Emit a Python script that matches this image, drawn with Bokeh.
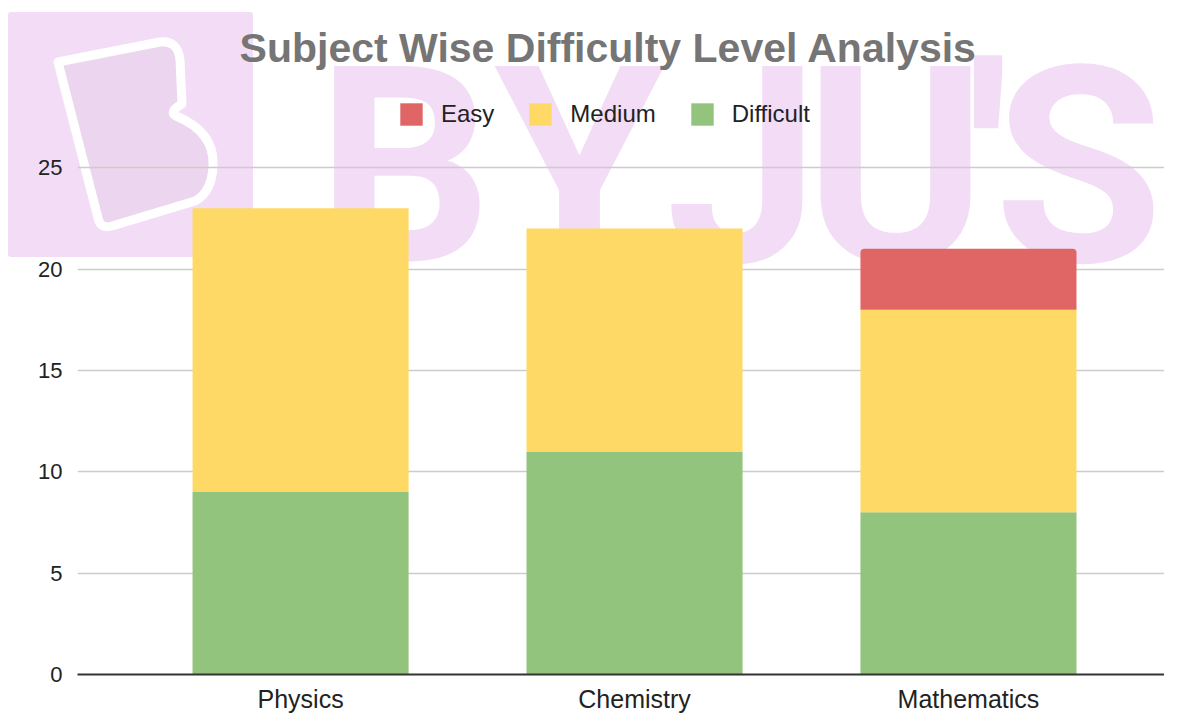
from bokeh.plotting import figure
from bokeh.models import (ColumnDataSource, FixedTicker, Legend, LegendItem, Label, Range1d)
from bokeh.transform import stack
from bokeh.embed import file_html
from bokeh.resources import INLINE

# ---- data ----
subjects = ["Physics", "Chemistry", "Mathematics"]
difficult = [9, 11, 8]
medium = [14, 11, 10]
easy = [0, 0, 3]
legend_order = ["Easy", "Medium", "Difficult"]
y_ticks = [0, 5, 10, 15, 20, 25]
title_text = "Subject Wise Difficulty Level Analysis"
watermark_letters = ["B", "Y", "J", "U", "'", "S"]

colors = {"Easy": "#e06666", "Medium": "#ffd966", "Difficult": "#93c47d"}
positions = list(range(1, len(subjects) + 1))
source = ColumnDataSource(dict(x=positions, Difficult=difficult, Medium=medium, Easy=easy))

W, H = 1164, 715
FRAME_LEFT, FRAME_BOTTOM = 77, 680
WM = "%23f3dcf6"
logo_svg = (
    f"<svg xmlns='http://www.w3.org/2000/svg' width='{W}' height='{H}'>"
    f"<rect x='8' y='12' width='245' height='245' rx='3' fill='{WM}'/>"
    "<path d='M58,62 L160,42 Q178,40 180,60 L182,104 Q168,112 176,116 Q215,132 213,166 "
    "Q212,192 195,201 L112,226 Q100,229 98,218 Z' fill='%23ecd5ee' stroke='white' "
    "stroke-width='9' stroke-linejoin='round'/>"
    "</svg>"
)
p = figure(width=W, height=H, output_backend="svg", toolbar_location=None,
           x_range=Range1d(0.332, 3.587), y_range=Range1d(0, 33.25),
           min_border_left=FRAME_LEFT, min_border_right=0, min_border_top=0,
           min_border_bottom=H - FRAME_BOTTOM,
           styles={"background": f'url("data:image/svg+xml;utf8,{logo_svg}") 0 0 / {W}px {H}px no-repeat, #ffffff'})
p.outline_line_color = None
p.background_fill_alpha = 0
p.border_fill_alpha = 0

# ---- watermark (decoration) ----
wm_x = [327, 502, 665, 818, 910, 1001]
for letter, xx in zip(watermark_letters, wm_x):
    p.add_layout(Label(x=xx, y=FRAME_BOTTOM - 12, x_units="screen", y_units="screen", text=letter,
                       text_font="Roboto", text_font_style="bold", text_font_size="275px",
                       text_color="#f3dcf6", text_align="center", text_baseline="top",
                       level="image"))

# ---- bars ----
bw = 0.647
r_d = p.vbar(x="x", bottom=0, top=stack("Difficult"), width=bw, source=source,
             fill_color=colors["Difficult"], line_color=None)
r_m = p.vbar(x="x", bottom=stack("Difficult"), top=stack("Difficult", "Medium"), width=bw,
             source=source, fill_color=colors["Medium"], line_color=None)
r_e = p.vbar(x="x", bottom=stack("Difficult", "Medium"), top=stack("Difficult", "Medium", "Easy"),
             width=bw, source=source, fill_color=colors["Easy"], line_color=None,
             border_radius=(4, 4, 0, 0))
rmap = {"Easy": r_e, "Medium": r_m, "Difficult": r_d}

# ---- axes ----
p.xaxis.ticker = FixedTicker(ticks=positions)
p.xaxis.major_label_overrides = {pos: name for pos, name in zip(positions, subjects)}
p.xaxis.axis_line_color = "#333333"
p.xaxis.axis_line_width = 2
p.xaxis.major_tick_line_color = None
p.xaxis.minor_tick_line_color = None
p.xaxis.major_tick_out = 0
p.xaxis.major_tick_in = 0
p.xaxis.major_label_text_font = "Liberation Sans"
p.xaxis.major_label_text_font_size = "25px"
p.xaxis.major_label_text_color = "#222222"
p.xaxis.major_label_standoff = 10
p.xgrid.grid_line_color = None

p.yaxis.ticker = FixedTicker(ticks=y_ticks)
p.yaxis.axis_line_color = None
p.yaxis.major_tick_line_color = None
p.yaxis.minor_tick_line_color = None
p.yaxis.major_tick_out = 0
p.yaxis.major_tick_in = 0
p.yaxis.major_label_text_font = "Liberation Sans"
p.yaxis.major_label_text_font_size = "22px"
p.yaxis.major_label_text_color = "#222222"
p.yaxis.major_label_standoff = 15
p.ygrid.ticker = FixedTicker(ticks=y_ticks)
p.ygrid.grid_line_color = "#cccccc"
p.ygrid.grid_line_width = 1.5

# ---- title ----
p.add_layout(Label(x=531, y=FRAME_BOTTOM - 53, x_units="screen", y_units="screen", text=title_text,
                   text_font="Liberation Sans", text_font_style="bold", text_font_size="41px",
                   text_color="#757575", text_align="center", text_baseline="middle"))

# ---- legend ----
legend = Legend(items=[LegendItem(label=s, renderers=[rmap[s]]) for s in legend_order],
                orientation="horizontal", location=(320, FRAME_BOTTOM - 134),
                glyph_width=28, glyph_height=28, label_standoff=16, spacing=32,
                padding=0, margin=0, border_line_color=None, background_fill_alpha=0,
                label_text_font="Liberation Sans", label_text_font_size="24px",
                label_text_color="#222222")
p.add_layout(legend)

open("out.html", "w").write(file_html(p, INLINE))
